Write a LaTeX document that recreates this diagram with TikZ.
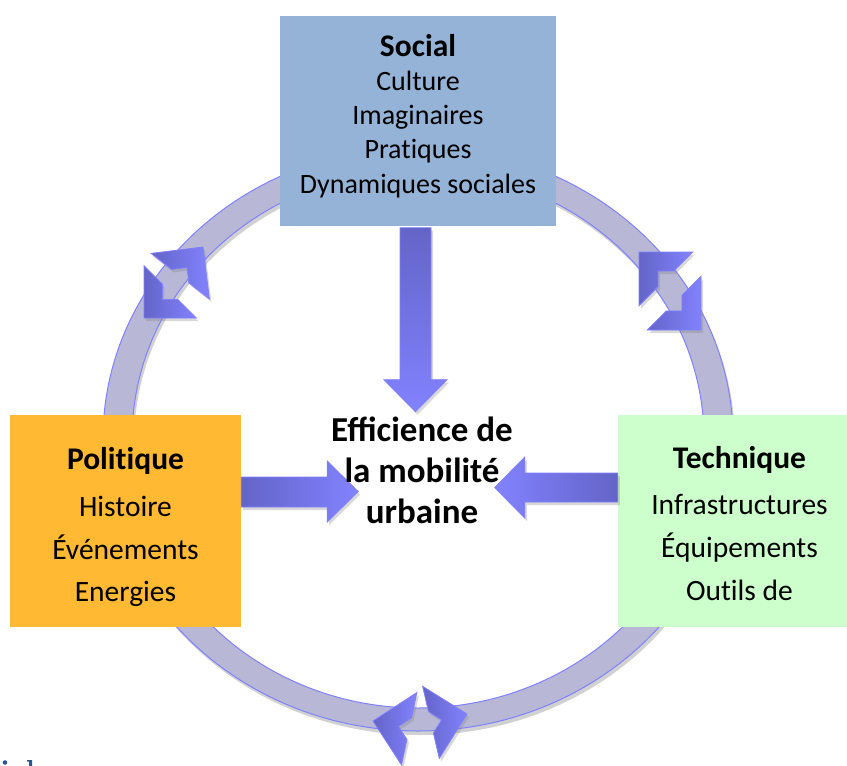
\documentclass[tikz,border=0pt]{standalone}
\usepackage{fontspec}
\setmainfont{Carlito}[Ligatures=NoCommon]
\usetikzlibrary{shadows}
\definecolor{socialc}{RGB}{149,179,215}
\definecolor{politc}{RGB}{255,185,50}
\definecolor{techc}{RGB}{204,255,204}
\definecolor{ringfill}{RGB}{184,184,214}
\definecolor{ringline}{RGB}{128,128,255}
\definecolor{adark}{RGB}{100,100,200}
\definecolor{alight}{RGB}{130,130,255}
\definecolor{fragc}{RGB}{47,85,151}
\begin{document}
\begin{tikzpicture}[x=1pt,y=-1pt,
  box/.style={rectangle, draw=none, inner sep=0pt},
  lbls/.style={anchor=base, inner sep=0pt, font=\fontsize{28}{32}\selectfont},
  lbl/.style={anchor=base, inner sep=0pt, font=\fontsize{29.5}{32}\selectfont},
  hdr/.style={anchor=base, inner sep=0pt, font=\fontsize{31.5}{36}\selectfont\bfseries},
  ctr/.style={anchor=base, inner sep=0pt, font=\fontsize{35}{40}\selectfont\bfseries\addfontfeatures{Ligatures=Common}},
  ringstyle/.style={fill=ringfill, draw=ringline, line width=1pt},
  ringshadow/.style={fill=black, opacity=0.18},
  chev/.style={draw=ringline, line width=0.8pt, left color=adark, right color=alight,
    drop shadow={opacity=0.3, shadow xshift=2pt, shadow yshift=-3pt}},
  bigarrow/.style={draw=ringline, line width=0.8pt,
    drop shadow={opacity=0.3, shadow xshift=2pt, shadow yshift=-3pt}}
]
\useasboundingbox (0,0) rectangle (847,766);
\clip (0,0) rectangle (847,766);
\fill[white] (0,0) rectangle (847,766);

% ring shadow and ring
\path[ringshadow, even odd rule] (420,443) ellipse [x radius=315, y radius=292]
  (420,443) ellipse [x radius=286, y radius=269];
\path[ringstyle, even odd rule] (418,439) ellipse [x radius=315, y radius=292]
  (418,439) ellipse [x radius=286, y radius=269];

% chevron pairs on the ring
\path[chev, shift={(203,247)}, rotate=52] (0,0) -- (-37,37) -- (-37,11) -- (-26,0) -- (-37,-11) -- (-37,-37) -- cycle;
\path[chev, shift={(144,318)}, rotate=225] (0,0) -- (-37,37) -- (-37,11) -- (-26,0) -- (-37,-11) -- (-37,-37) -- cycle;
\path[chev, shift={(639,252)}, rotate=135] (0,0) -- (-38,38) -- (-38,11) -- (-27,0) -- (-38,-11) -- (-38,-38) -- cycle;
\path[chev, shift={(701,330)}, rotate=-45] (0,0) -- (-38,38) -- (-38,11) -- (-27,0) -- (-38,-11) -- (-38,-38) -- cycle;
\path[chev, shift={(373,721)}, rotate=168] (0,0) -- (-37,37) -- (-37,11) -- (-26,0) -- (-37,-11) -- (-37,-37) -- cycle;
\path[chev, shift={(467,714)}, rotate=13] (0,0) -- (-37,37) -- (-37,11) -- (-26,0) -- (-37,-11) -- (-37,-37) -- cycle;

% boxes
\node[box, fill=socialc, minimum width=276, minimum height=210] (social) at (418,121) {};
\node[box, fill=politc, minimum width=231, minimum height=212] (polit) at (125.5,521) {};
\node[box, fill=techc, minimum width=243, minimum height=212] (tech) at (739.5,521) {};

% big arrows
\path[bigarrow, top color=adark, bottom color=alight, shift={(social.south)}]
  (-18,1.5) -- (13,1.5) -- (13,153.5) -- (29,153.5) -- (-2.5,185.5) -- (-34,153.5) -- (-18,153.5) -- cycle;
\path[bigarrow, left color=adark, right color=alight, shift={(polit.east)}]
  (0,-44) -- (86,-44) -- (86,-60) -- (117,-29.5) -- (86,1) -- (86,-14) -- (0,-14) -- cycle;
\path[bigarrow, right color=adark, left color=alight, shift={(tech.west)}]
  (0,-48) -- (-93,-48) -- (-93,-64) -- (-123,-33.5) -- (-93,-3) -- (-93,-19) -- (0,-19) -- cycle;

% texts: Social
\node[hdr] (s0) at (418,56) {Social};
\node[lbls] (s1) at (418,90) {Culture};
\node[lbls] (s2) at (418,124) {Imaginaires};
\node[lbls] (s3) at (418,158) {Pratiques};
\node[lbls] (s4) at (418,193) {Dynamiques sociales};
% Politique
\node[hdr] (p0) at (125.5,469) {Politique};
\node[lbl] (p1) at (125.5,516) {Histoire};
\node[lbl] (p2) at (125.5,559) {Événements};
\node[lbl] (p3) at (125.5,601) {Energies};
% Technique
\node[hdr] (t0) at (739.5,468) {Technique};
\node[lbl] (t1) at (739.5,514) {Infrastructures};
\node[lbl] (t2) at (739.5,557) {Équipements};
\node[lbl] (t3) at (739.5,600) {Outils de};
% centre
\node[ctr] (c1) at (422,441) {Efficience de};
\node[ctr] (c2) at (422,482) {la mobilité};
\node[ctr] (c3) at (422,523) {urbaine};

% cut-off fragment bottom-left
\fill[fragc] (5,762.5) circle (2.3);
\fill[fragc] (27,760) -- (32,760) -- (32,766) -- (29,766) -- (29,761.5) -- (27,761.5) -- cycle;
\end{tikzpicture}
\end{document}
